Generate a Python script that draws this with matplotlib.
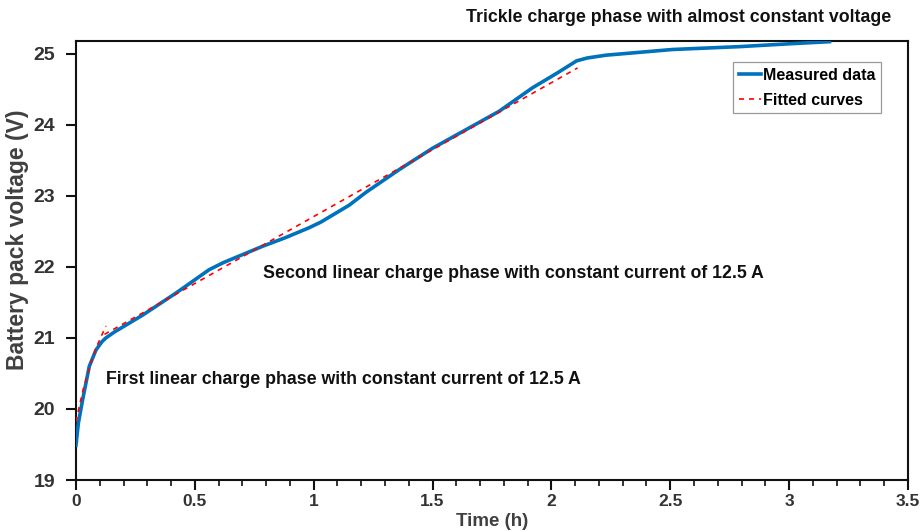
import matplotlib
matplotlib.use("Agg")
import matplotlib.pyplot as plt
from matplotlib.ticker import MultipleLocator

plt.rcParams['font.family'] = ['Liberation Sans', 'DejaVu Sans']

# Measured data (time in h, voltage in V)
meas_t = [0.0, 0.01, 0.028, 0.056, 0.084, 0.11, 0.126, 0.16, 0.22, 0.28, 0.42, 0.56, 0.62, 0.67,
          0.785, 0.88, 0.98, 1.03, 1.15, 1.22, 1.36, 1.50, 1.64, 1.78, 1.92, 2.02, 2.106,
          2.15, 2.23, 2.51, 2.79, 3.0, 3.17]
meas_v = [19.49, 19.8, 20.13, 20.60, 20.83, 20.95, 21.0, 21.08, 21.2, 21.32, 21.63, 21.96, 22.06, 22.13,
          22.29, 22.41, 22.55, 22.63, 22.87, 23.05, 23.37, 23.67, 23.93, 24.19, 24.52, 24.72, 24.90,
          24.94, 24.98, 25.06, 25.10, 25.14, 25.17]

# Fitted curves
fit1_t = [0.0, 0.015, 0.03, 0.06, 0.09, 0.11, 0.126]
fit1_v = [19.82, 20.05, 20.27, 20.62, 20.9, 21.05, 21.17]
fit2_t = [0.12, 2.11]
fit2_v = [21.05, 24.80]

xticks = [0, 0.5, 1, 1.5, 2, 2.5, 3, 3.5]
xticklabels = ['0', '0.5', '1', '1.5', '2', '2.5', '3', '3.5']
yticks = [19, 20, 21, 22, 23, 24, 25]
xlim = (0, 3.5)
ylim = (19, 25.18)

fig = plt.figure(figsize=(9.22, 5.32), dpi=100)
ax = fig.add_axes([0.0824, 0.0977, 0.9024, 0.8253])

ax.plot(meas_t, meas_v, color='#0072BD', lw=2.6, label='Measured data', zorder=3)
ax.plot(fit1_t, fit1_v, color='#FF0000', lw=1.2, ls=(0, (3, 3)), label='Fitted curves', zorder=4)
ax.plot(fit2_t, fit2_v, color='#FF0000', lw=1.2, ls=(0, (3, 3)), zorder=4)

ax.set_xlim(*xlim)
ax.set_ylim(*ylim)
ax.xaxis.set_minor_locator(MultipleLocator(0.1))
ax.set_yticks(yticks)
ax.set_xticks(xticks)
ax.set_xticklabels(xticklabels)

for s in ax.spines.values():
    s.set_linewidth(1.5)
    s.set_color('#111111')

ax.tick_params(axis='both', which='major', direction='out', length=7, width=1.5,
               colors='#111111', labelcolor='#333333', top=False, right=False, pad=3)
ax.tick_params(axis='y', which='major', pad=8)
ax.tick_params(axis='x', which='minor', direction='out', length=4, width=1.2, colors='#111111',
               top=False)
for lab in ax.get_xticklabels():
    lab.set_fontweight('bold')
    lab.set_fontsize(12.5)
for lab in ax.get_yticklabels():
    lab.set_fontweight('bold')
    lab.set_fontsize(14)

ax.set_xlabel('Time (h)', fontsize=13.5, fontweight='bold', color='#404040')
ax.xaxis.set_label_coords(0.5, -0.075)
ax.set_ylabel('Battery pack voltage (V)', fontsize=16.5, fontweight='bold', color='#404040')
ax.yaxis.set_label_coords(-0.0565, 0.547)

leg = ax.legend(loc='upper right', bbox_to_anchor=(0.9675, 0.951),
                prop={'weight': 'bold', 'size': 11.5}, handlelength=1.4, handletextpad=0.1,
                borderpad=0.35, labelspacing=0.6, fancybox=False, framealpha=1,
                borderaxespad=0)
leg.get_frame().set_edgecolor('#999999')
leg.get_frame().set_linewidth(0.9)

ax.annotate('First linear charge phase with constant current of 12.5 A', xy=(106, 532 - 380),
            xycoords='figure pixels', fontsize=12.8, fontweight='bold', color='#111111',
            ha='left', va='center')
ax.annotate('Second linear charge phase with constant current of 12.5 A', xy=(263, 532 - 274),
            xycoords='figure pixels', fontsize=12.8, fontweight='bold', color='#111111',
            ha='left', va='center')
ax.annotate('Trickle charge phase with almost constant voltage', xy=(466, 532 - 17),
            xycoords='figure pixels', fontsize=12.8, fontweight='bold', color='#111111',
            ha='left', va='center', annotation_clip=False)

fig.savefig('out.png', dpi=100)
